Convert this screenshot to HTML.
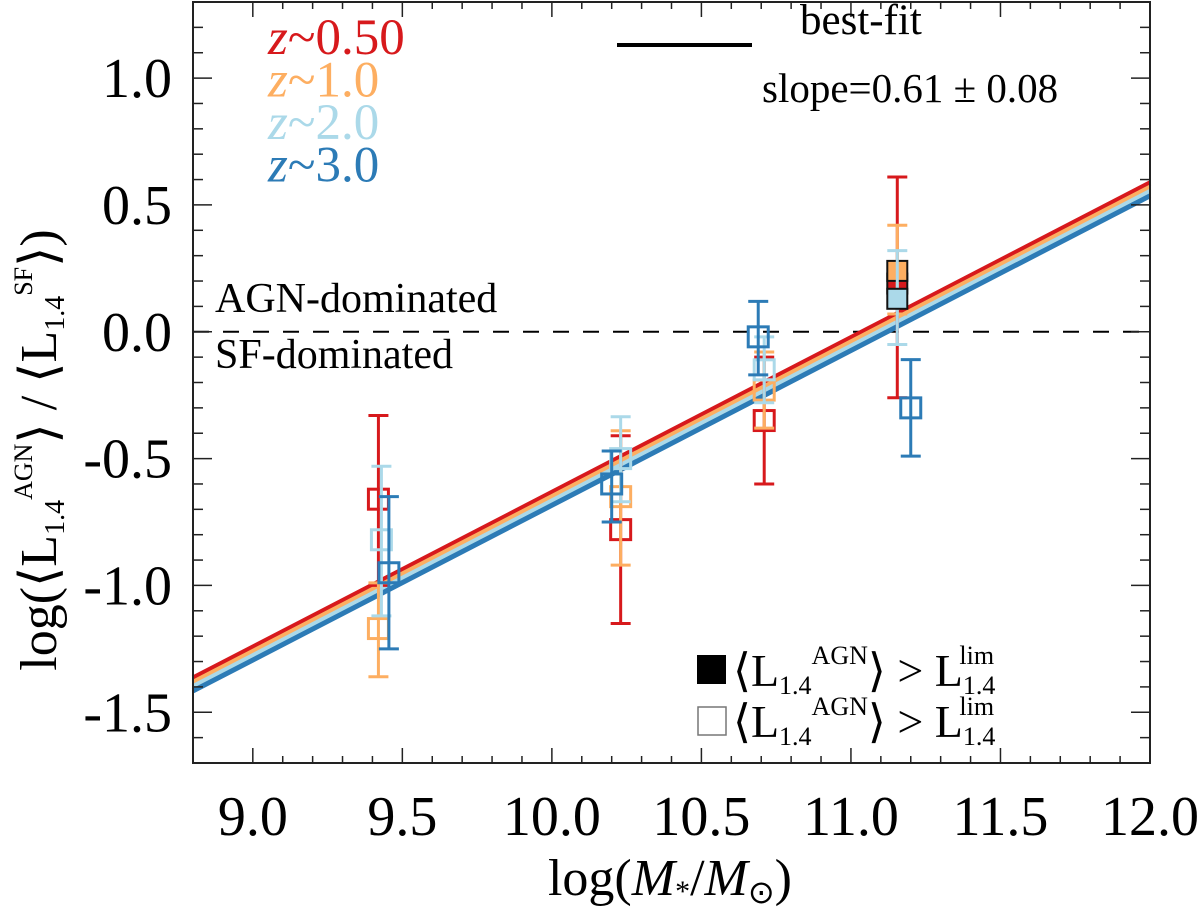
<!DOCTYPE html>
<html><head><meta charset="utf-8"><style>
html,body{margin:0;padding:0;background:#fff}
svg{display:block;font-family:"Liberation Serif",serif}
</style></head><body>
<svg id="chart" width="1200" height="911" viewBox="0 0 1200 911">
<g id="plot"></g>
<g>
<line x1="617" x2="752" y1="45" y2="45" stroke="#000" stroke-width="4"/>
<text x="800" y="34" font-size="43">best-fit</text>
<text x="762" y="102" font-size="41">slope=0.61 ± 0.08</text>
</g>
<text x="215" y="312" font-size="42">AGN-dominated</text>
<text x="215" y="368" font-size="42">SF-dominated</text>
<g font-size="46">
<rect x="697" y="655" width="29" height="29" fill="#000"/>
<text x="733" y="686">⟨L<tspan font-size="26" dy="8">1.4</tspan><tspan font-size="26" dy="-30">AGN</tspan><tspan dy="22">⟩ &gt; L</tspan><tspan font-size="26" dy="8">1.4</tspan><tspan font-size="26" dy="-30" dx="-36">lim</tspan></text>
<rect x="698" y="707" width="28" height="28" fill="none" stroke="#777" stroke-width="1.5"/>
<text x="733" y="737">⟨L<tspan font-size="26" dy="8">1.4</tspan><tspan font-size="26" dy="-30">AGN</tspan><tspan dy="22">⟩ &gt; L</tspan><tspan font-size="26" dy="8">1.4</tspan><tspan font-size="26" dy="-30" dx="-36">lim</tspan></text>
</g>
<text x="670" y="895" text-anchor="middle" font-size="52">log(<tspan font-style="italic">M</tspan><tspan font-size="30" dy="6">*</tspan><tspan dy="-6">/</tspan><tspan font-style="italic">M</tspan><tspan font-size="32" dy="8">⊙</tspan><tspan dy="-8">)</tspan></text>
<text transform="translate(56,450) rotate(-90)" text-anchor="middle" font-size="52">log(⟨L<tspan font-size="28" dy="8">1.4</tspan><tspan font-size="26" dy="-32">AGN</tspan><tspan dy="24">⟩ / ⟨L</tspan><tspan font-size="28" dy="8">1.4</tspan><tspan font-size="26" dy="-32">SF</tspan><tspan dy="24">⟩)</tspan></text>
</svg>
<script>
const colors=['#d7191c','#fdae61','#abd9e9','#2c7bb6'];
const zLabels=['z~0.50','z~1.0','z~2.0','z~3.0'];
const intercepts=[-0.023,-0.040,-0.057,-0.074];
const slope=0.61;
const ptSeries=[0,1,2,3, 0,1,2,3, 0,1,2,3, 0,1,2,3];
const ptX=[9.42,9.42,9.43,9.455, 10.23,10.23,10.23,10.20, 10.71,10.71,10.71,10.69, 11.155,11.155,11.155,11.20];
const ptY=[-0.66,-1.17,-0.82,-0.95, -0.78,-0.65,-0.50,-0.60, -0.35,-0.23,-0.15,-0.02, 0.19,0.24,0.13,-0.30];
const ptLo=[-1.00,-1.36,-1.12,-1.25, -1.15,-0.92,-0.67,-0.75, -0.60,-0.38,-0.28,-0.17, -0.26,0.07,-0.05,-0.49];
const ptHi=[-0.33,-0.99,-0.53,-0.65, -0.41,-0.39,-0.335,-0.47, -0.10,-0.08,-0.02,0.12, 0.61,0.42,0.32,-0.11];
const ptFilled=[0,0,0,0, 0,0,0,0, 0,0,0,0, 1,1,1,0];
const xTicks=[9.0,9.5,10.0,10.5,11.0,11.5,12.0];
const xTickLabels=['9.0','9.5','10.0','10.5','11.0','11.5','12.0'];
const yTicks=[1.0,0.5,0.0,-0.5,-1.0,-1.5];
const yTickLabels=['1.0','0.5','0.0','-0.5','-1.0','-1.5'];

const L=193,R=1150,T=2,B=763,X0=8.8,X1=12.0,Y0=-1.7,Y1=1.3;
const sx=v=>L+(v-X0)/(X1-X0)*(R-L);
const sy=v=>B-(v-Y0)/(Y1-Y0)*(B-T);
const NS='http://www.w3.org/2000/svg';
const g=document.getElementById('plot');
function mk(tag,attrs,parent){const e=document.createElementNS(NS,tag);for(const k in attrs)e.setAttribute(k,attrs[k]);(parent||g).appendChild(e);return e;}

let e=mk('line',{x1:L,x2:R,y1:sy(0),y2:sy(0),stroke:'#000','stroke-width':2,'stroke-dasharray':'16,14'});



for(let i=0;i<4;i++){
  e=mk('line',{x1:sx(X0),y1:sy(intercepts[i]+slope*(X0-11)),x2:sx(X1),y2:sy(intercepts[i]+slope*(X1-11)),stroke:colors[i],'stroke-width':5});
  
  
}
for(let j=0;j<ptX.length;j++){
  const c=colors[ptSeries[j]],x=sx(ptX[j]);
  const pg=mk('g',{});
  
  
  mk('line',{x1:x,x2:x,y1:sy(ptLo[j]),y2:sy(ptHi[j]),stroke:c,'stroke-width':3},pg);
  mk('line',{x1:x-10,x2:x+10,y1:sy(ptLo[j]),y2:sy(ptLo[j]),stroke:c,'stroke-width':3},pg);
  mk('line',{x1:x-10,x2:x+10,y1:sy(ptHi[j]),y2:sy(ptHi[j]),stroke:c,'stroke-width':3},pg);
  if(ptFilled[j]) mk('rect',{x:x-10,y:sy(ptY[j])-10,width:20,height:20,fill:c,stroke:'#111','stroke-width':2},pg);
  else mk('rect',{x:x-10,y:sy(ptY[j])-10,width:20,height:20,fill:'none',stroke:c,'stroke-width':3},pg);
}
e=mk('rect',{x:L,y:T,width:R-L,height:B-T,fill:'none',stroke:'#222','stroke-width':2});


for(let v=9;v<=12.001;v+=0.1){
  const major=Math.abs(v*2-Math.round(v*2))<1e-6;const len=major?15:7;const x=sx(v);
  mk('line',{x1:x,x2:x,y1:B,y2:B-len,stroke:'#222','stroke-width':1.5});
  mk('line',{x1:x,x2:x,y1:T,y2:T+len,stroke:'#222','stroke-width':1.5});
}
for(let v=-1.7;v<=1.301;v+=0.1){
  const major=Math.abs(v*2-Math.round(v*2))<1e-6;const len=major?19:10;const y=sy(v);
  mk('line',{x1:L,x2:L+len,y1:y,y2:y,stroke:'#222','stroke-width':1.5});
  mk('line',{x1:R,x2:R-len,y1:y,y2:y,stroke:'#222','stroke-width':1.5});
}
xTicks.forEach((v,i)=>{e=mk('text',{x:sx(v),y:835,'text-anchor':'middle','font-size':56});e.textContent=xTickLabels[i];

});
yTicks.forEach((v,i)=>{e=mk('text',{x:172,y:sy(v)+19,'text-anchor':'end','font-size':56});e.textContent=yTickLabels[i];

});
zLabels.forEach((t,i)=>{e=mk('text',{x:268,y:54+42.5*i,'font-size':51,fill:colors[i]});


const a=mk('tspan',{'font-style':'italic'},e);a.textContent='z';const b=mk('tspan',{},e);b.textContent=t.slice(1);});
</script>
</body></html>
